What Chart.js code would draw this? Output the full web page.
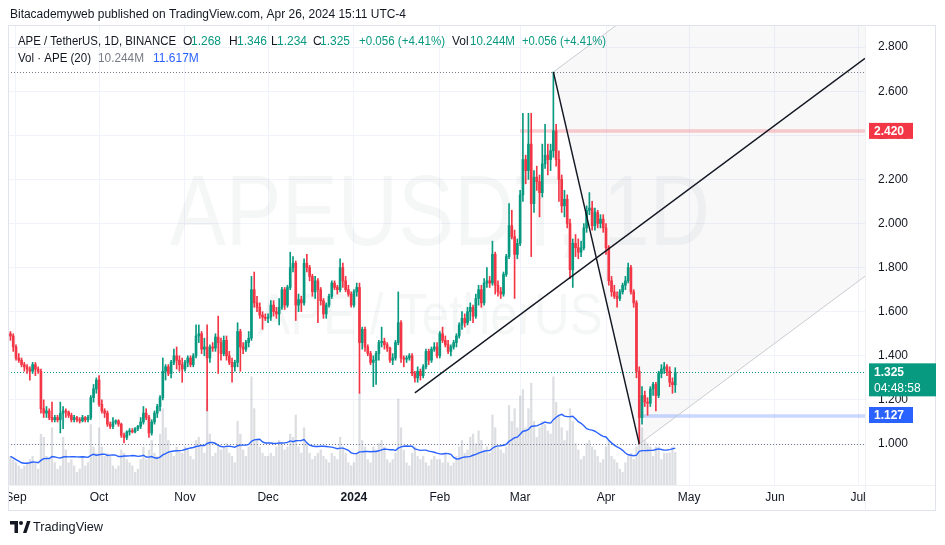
<!DOCTYPE html>
<html>
<head>
<meta charset="utf-8">
<script src="https://cdn.jsdelivr.net/npm/chart.js@4.4.1/dist/chart.umd.min.js"></script>
<style>
  html, body { margin: 0; padding: 0; background: #ffffff; }
  canvas { display: block; }
</style>
</head>
<body>
<canvas id="apeChart" width="945" height="545"></canvas>
<script>
// day index: 0 = 2023-09-01, first candle = 2023-08-30
const firstDay = -2;
const monthTicks = [0, 30, 61, 91, 122, 153, 182, 213, 243, 274, 304];
const monthLabels = ['Sep', 'Oct', 'Nov', 'Dec', '2024', 'Feb', 'Mar', 'Apr', 'May', 'Jun', 'Jul'];
const priceTicks = [1.0, 1.2, 1.4, 1.6, 1.8, 2.0, 2.2, 2.4, 2.6, 2.8];

const opens = [
  1.50, 1.49,
  1.44, 1.39, 1.38, 1.36, 1.35, 1.34, 1.33, 1.36, 1.34, 1.33, 1.16, 1.14, 1.15, 1.12, 1.11, 1.12, 1.11, 1.14, 1.15, 1.145, 1.13, 1.11, 1.12, 1.11, 1.105, 1.12, 1.11, 1.12, 1.21, 1.25,
  1.29, 1.18, 1.15, 1.14, 1.09, 1.08, 1.10, 1.105, 1.09, 1.04, 1.03, 1.055, 1.06, 1.055, 1.07, 1.08, 1.10, 1.14, 1.12, 1.05, 1.10, 1.14, 1.17, 1.21, 1.33, 1.35, 1.32, 1.37, 1.40, 1.38, 1.36,
  1.34, 1.37, 1.39, 1.36, 1.40, 1.49, 1.50, 1.43, 1.44, 1.39, 1.44, 1.435, 1.485, 1.46, 1.41, 1.47, 1.40, 1.37, 1.35, 1.37, 1.51, 1.44, 1.43, 1.46, 1.48, 1.70, 1.64, 1.62, 1.585, 1.575,
  1.57, 1.575, 1.63, 1.60, 1.59, 1.62, 1.70, 1.63, 1.71, 1.80, 1.82, 1.63, 1.655, 1.64, 1.82, 1.80, 1.76, 1.69, 1.74, 1.70, 1.65, 1.59, 1.63, 1.67, 1.73, 1.71, 1.70, 1.80, 1.74, 1.70, 1.68,
  1.63, 1.69, 1.71, 1.46, 1.52, 1.44, 1.41, 1.37, 1.38, 1.41, 1.46, 1.465, 1.45, 1.435, 1.38, 1.39, 1.46, 1.55, 1.39, 1.385, 1.39, 1.40, 1.32, 1.30, 1.33, 1.31, 1.35, 1.42, 1.38, 1.43, 1.44,
  1.40, 1.50, 1.47, 1.45, 1.42, 1.44, 1.46, 1.49, 1.54, 1.57, 1.55, 1.60, 1.62, 1.58, 1.66, 1.70, 1.64, 1.73, 1.74, 1.73, 1.86, 1.72, 1.69, 1.68, 1.77, 1.85, 1.99, 1.94, 1.86,
  1.91, 2.13, 2.29, 2.24, 2.36, 2.09, 2.21, 2.19, 2.14, 2.27, 2.31, 2.29, 2.33, 2.42, 2.29, 2.20, 2.08, 2.11, 2.00, 1.79, 1.91, 1.89, 1.87, 1.89, 1.98, 2.06, 2.07, 1.99, 2.05, 2.00, 2.02,
  1.98, 1.89, 1.74, 1.69, 1.67, 1.66, 1.69, 1.72, 1.74, 1.80, 1.69, 1.64, 1.33, 1.12, 1.22, 1.19, 1.185, 1.25, 1.27, 1.22, 1.32, 1.34, 1.35, 1.33, 1.28, 1.268
];
const highs = [
  1.51, 1.50,
  1.45, 1.41, 1.39, 1.37, 1.36, 1.35, 1.37, 1.37, 1.35, 1.34, 1.20, 1.17, 1.16, 1.19, 1.13, 1.13, 1.19, 1.17, 1.16, 1.15, 1.14, 1.13, 1.125, 1.12, 1.13, 1.125, 1.13, 1.22, 1.27, 1.30,
  1.31, 1.20, 1.16, 1.15, 1.10, 1.12, 1.11, 1.11, 1.095, 1.05, 1.06, 1.07, 1.07, 1.075, 1.085, 1.12, 1.17, 1.16, 1.13, 1.11, 1.15, 1.18, 1.22, 1.39, 1.36, 1.36, 1.38, 1.43, 1.44, 1.40, 1.39,
  1.38, 1.40, 1.40, 1.41, 1.54, 1.54, 1.51, 1.48, 1.54, 1.45, 1.46, 1.50, 1.58, 1.48, 1.49, 1.49, 1.42, 1.39, 1.38, 1.55, 1.52, 1.46, 1.47, 1.51, 1.76, 1.78, 1.67, 1.64, 1.60, 1.59,
  1.59, 1.65, 1.65, 1.62, 1.66, 1.71, 1.71, 1.72, 1.87, 1.85, 1.83, 1.68, 1.67, 1.84, 1.86, 1.81, 1.77, 1.76, 1.75, 1.71, 1.66, 1.64, 1.68, 1.74, 1.74, 1.72, 1.84, 1.82, 1.76, 1.72, 1.69,
  1.70, 1.73, 1.73, 1.53, 1.53, 1.45, 1.42, 1.40, 1.42, 1.47, 1.53, 1.48, 1.46, 1.44, 1.41, 1.47, 1.69, 1.56, 1.40, 1.40, 1.41, 1.41, 1.33, 1.35, 1.34, 1.36, 1.43, 1.43, 1.44, 1.46, 1.46,
  1.51, 1.53, 1.49, 1.47, 1.45, 1.47, 1.50, 1.55, 1.60, 1.59, 1.62, 1.64, 1.63, 1.68, 1.72, 1.72, 1.75, 1.80, 1.76, 1.92, 1.87, 1.74, 1.71, 1.78, 1.86, 2.09, 2.06, 1.97, 1.93,
  2.15, 2.50, 2.31, 2.50, 2.50, 2.24, 2.26, 2.22, 2.36, 2.45, 2.36, 2.36, 2.687, 2.45, 2.33, 2.22, 2.15, 2.13, 2.02, 1.93, 1.95, 1.93, 1.92, 2.00, 2.08, 2.14, 2.10, 2.07, 2.06, 2.04, 2.04,
  2.00, 1.90, 1.76, 1.72, 1.69, 1.70, 1.73, 1.76, 1.82, 1.81, 1.70, 1.65, 1.35, 1.26, 1.24, 1.21, 1.26, 1.28, 1.28, 1.33, 1.36, 1.37, 1.36, 1.35, 1.30, 1.346
];
const lows = [
  1.47, 1.42,
  1.38, 1.37, 1.35, 1.33, 1.32, 1.29, 1.32, 1.31, 1.32, 1.14, 1.12, 1.12, 1.11, 1.10, 1.10, 1.10, 1.05, 1.07, 1.12, 1.12, 1.10, 1.10, 1.10, 1.095, 1.10, 1.10, 1.10, 1.11, 1.19, 1.23,
  1.17, 1.14, 1.12, 1.08, 1.07, 1.07, 1.09, 1.08, 1.03, 1.005, 1.02, 1.04, 1.05, 1.05, 1.06, 1.07, 1.09, 1.11, 1.03, 1.04, 1.09, 1.12, 1.15, 1.20, 1.29, 1.31, 1.30, 1.36, 1.34, 1.33, 1.28,
  1.33, 1.35, 1.35, 1.35, 1.39, 1.46, 1.41, 1.40, 1.15, 1.37, 1.42, 1.42, 1.32, 1.38, 1.40, 1.38, 1.36, 1.28, 1.33, 1.35, 1.33, 1.41, 1.42, 1.44, 1.47, 1.62, 1.60, 1.57, 1.52, 1.56,
  1.55, 1.56, 1.58, 1.57, 1.54, 1.61, 1.61, 1.62, 1.70, 1.78, 1.56, 1.60, 1.60, 1.63, 1.78, 1.74, 1.67, 1.66, 1.55, 1.63, 1.57, 1.57, 1.62, 1.66, 1.70, 1.68, 1.69, 1.71, 1.69, 1.67, 1.62,
  1.62, 1.67, 1.23, 1.43, 1.42, 1.40, 1.36, 1.26, 1.27, 1.38, 1.44, 1.43, 1.42, 1.37, 1.36, 1.38, 1.45, 1.37, 1.35, 1.37, 1.38, 1.31, 1.28, 1.28, 1.29, 1.30, 1.34, 1.36, 1.37, 1.42, 1.39,
  1.39, 1.46, 1.44, 1.41, 1.40, 1.43, 1.44, 1.48, 1.52, 1.53, 1.54, 1.56, 1.55, 1.57, 1.63, 1.62, 1.63, 1.71, 1.71, 1.72, 1.68, 1.67, 1.66, 1.67, 1.76, 1.84, 1.93, 1.66, 1.84,
  1.90, 2.10, 2.18, 2.20, 1.85, 2.05, 2.15, 2.03, 2.12, 2.25, 2.22, 2.24, 2.30, 2.26, 2.10, 2.05, 2.03, 1.98, 1.75, 1.71, 1.85, 1.84, 1.85, 1.88, 1.96, 2.04, 1.97, 1.97, 1.98, 1.98, 1.96,
  1.86, 1.72, 1.67, 1.66, 1.62, 1.65, 1.68, 1.70, 1.73, 1.68, 1.62, 1.30, 1.00, 1.09, 1.17, 1.13, 1.17, 1.22, 1.15, 1.21, 1.30, 1.32, 1.31, 1.26, 1.23, 1.234
];
const closes = [
  1.49, 1.44,
  1.39, 1.38, 1.36, 1.35, 1.34, 1.33, 1.36, 1.34, 1.33, 1.16, 1.14, 1.15, 1.12, 1.11, 1.12, 1.11, 1.14, 1.15, 1.145, 1.13, 1.11, 1.12, 1.11, 1.105, 1.12, 1.11, 1.12, 1.21, 1.25, 1.29,
  1.18, 1.15, 1.14, 1.09, 1.08, 1.10, 1.105, 1.09, 1.04, 1.03, 1.055, 1.06, 1.055, 1.07, 1.08, 1.10, 1.14, 1.12, 1.05, 1.10, 1.14, 1.17, 1.21, 1.33, 1.35, 1.32, 1.37, 1.40, 1.38, 1.36, 1.34,
  1.37, 1.39, 1.36, 1.40, 1.49, 1.50, 1.43, 1.44, 1.39, 1.44, 1.435, 1.485, 1.46, 1.41, 1.47, 1.40, 1.37, 1.35, 1.37, 1.51, 1.44, 1.43, 1.46, 1.48, 1.70, 1.64, 1.62, 1.585, 1.575, 1.57,
  1.575, 1.63, 1.60, 1.59, 1.62, 1.70, 1.63, 1.71, 1.80, 1.82, 1.63, 1.655, 1.64, 1.82, 1.80, 1.76, 1.69, 1.74, 1.70, 1.65, 1.59, 1.63, 1.67, 1.73, 1.71, 1.70, 1.80, 1.74, 1.70, 1.68, 1.63,
  1.69, 1.71, 1.46, 1.52, 1.44, 1.41, 1.37, 1.38, 1.41, 1.46, 1.465, 1.45, 1.435, 1.38, 1.39, 1.46, 1.55, 1.39, 1.385, 1.39, 1.40, 1.32, 1.30, 1.33, 1.31, 1.35, 1.42, 1.38, 1.43, 1.44, 1.40,
  1.50, 1.47, 1.45, 1.42, 1.44, 1.46, 1.49, 1.54, 1.57, 1.55, 1.60, 1.62, 1.58, 1.66, 1.70, 1.64, 1.73, 1.74, 1.73, 1.86, 1.72, 1.69, 1.68, 1.77, 1.85, 1.99, 1.94, 1.86, 1.91,
  2.13, 2.29, 2.24, 2.36, 2.09, 2.21, 2.19, 2.14, 2.27, 2.31, 2.29, 2.33, 2.42, 2.29, 2.20, 2.08, 2.11, 2.00, 1.79, 1.91, 1.89, 1.87, 1.89, 1.98, 2.06, 2.07, 1.99, 2.05, 2.00, 2.02, 1.98,
  1.89, 1.74, 1.69, 1.67, 1.66, 1.69, 1.72, 1.74, 1.80, 1.69, 1.64, 1.33, 1.12, 1.22, 1.19, 1.185, 1.25, 1.27, 1.22, 1.32, 1.34, 1.35, 1.33, 1.28, 1.269, 1.325
];
// volume in millions of APE
const volumes = [
  9, 8,
  7, 6, 5, 6, 7, 8, 9, 7, 5, 16, 15, 9, 8, 18, 7, 5, 6, 15, 11, 7, 8, 6, 4, 5, 9, 6, 7, 19, 12, 10,
  18, 12, 9, 10, 9, 6, 5, 6, 11, 10, 8, 7, 6, 4, 5, 8, 12, 8, 11, 14, 10, 9, 16, 24, 18, 14, 10, 9, 12, 11, 10,
  12, 11, 9, 8, 14, 15, 12, 10, 27, 16, 9, 10, 12, 11, 12, 13, 10, 9, 7, 20, 16, 11, 9, 12, 34, 24, 14, 12, 10, 9,
  9, 10, 9, 12, 14, 13, 11, 12, 16, 15, 22, 12, 10, 18, 13, 10, 8, 9, 10, 11, 9, 8, 7, 10, 9, 8, 15, 12, 10, 7, 6,
  7, 10, 29, 14, 12, 8, 7, 12, 11, 13, 14, 12, 8, 7, 8, 10, 27, 18, 11, 7, 6, 10, 12, 9, 8, 9, 7, 6, 8, 9, 8,
  8, 7, 10, 7, 6, 7, 9, 12, 14, 10, 11, 15, 16, 13, 17, 14, 11, 12, 10, 22, 18, 12, 11, 10, 12, 25, 20, 24, 18,
  28, 30, 18, 24, 32, 20, 15, 18, 20, 19, 17, 16, 34, 26, 22, 18, 14, 17, 24, 20, 13, 11, 8, 9, 13, 14, 12, 11, 9, 7, 8,
  12, 14, 9, 8, 7, 5, 4, 7, 9, 10, 8, 12, 32, 18, 14, 13, 12, 9, 12, 12, 8, 10, 10, 10.1, 12, 10.244
];

// pitchfork anchors [day, price]: A, B, C
const forkPoints = [[144, 1.232], [194, 2.687], [225, 1.00]];
const resistanceLevel = 2.420, resistanceFrom = 182;
const supportLevel = 1.127, supportFrom = 225;
const countdown = '04:48:58';

const FONT = '"Liberation Sans", Arial, sans-serif';
Chart.defaults.font.family = FONT;

const upColor = '#089981';
const downColor = '#f23645';
const dayX = closes.map((_, i) => firstDay + i);
const candleColors = closes.map((c, i) => c >= opens[i] ? upColor : downColor);
const volMA = volumes.map((_, i) => {
  const w = volumes.slice(Math.max(0, i - 19), i + 1);
  return w.reduce((s, v) => s + v, 0) / w.length;
});
const last = closes.length - 1;

function text(ctx, s, x, y, color, size, bold, maxW, align) {
  ctx.font = (bold ? 'bold ' : '') + size + 'px ' + FONT;
  ctx.fillStyle = color;
  ctx.textAlign = align || 'left';
  ctx.textBaseline = 'middle';
  if (maxW) ctx.fillText(s, x, y, maxW); else ctx.fillText(s, x, y);
}

function forkGeometry(x) {
  const [A, B, C] = forkPoints;
  const M = [(B[0] + C[0]) / 2, (B[1] + C[1]) / 2];
  const k = (M[1] - A[1]) / (M[0] - A[0]);
  const at = (P, d) => P[1] + k * (d - P[0]);
  return { A, B, C, at, end: x.max };
}

const overlay = {
  id: 'overlay',
  beforeDatasetsDraw(chart) {
    const { ctx, chartArea: a, scales: { x, y } } = chart;
    const px = d => x.getPixelForValue(d), py = p => y.getPixelForValue(p);
    ctx.save();
    ctx.beginPath();
    ctx.rect(a.left, a.top, a.right - a.left, a.bottom - a.top);
    ctx.clip();

    // watermark
    ctx.fillStyle = 'rgba(120,123,134,0.07)';
    ctx.textAlign = 'center';
    ctx.textBaseline = 'alphabetic';
    ctx.font = '100px ' + FONT;
    ctx.fillText('APEUSDT, 1D', 440, 245, 540);
    ctx.font = '58px ' + FONT;
    ctx.fillText('APE / TetherUS', 430, 334, 345);

    // pitchfork shading
    const f = forkGeometry(x);
    ctx.beginPath();
    ctx.moveTo(px(f.B[0]), py(f.B[1]));
    ctx.lineTo(px(f.end), py(f.at(f.B, f.end)));
    ctx.lineTo(px(f.end), py(f.at(f.C, f.end)));
    ctx.lineTo(px(f.C[0]), py(f.C[1]));
    ctx.closePath();
    ctx.fillStyle = 'rgba(120,123,134,0.05)';
    ctx.fill();

    // horizontal zones
    ctx.lineWidth = 3.5;
    ctx.strokeStyle = 'rgba(242,54,69,0.25)';
    ctx.beginPath();
    ctx.moveTo(px(resistanceFrom), py(resistanceLevel));
    ctx.lineTo(a.right, py(resistanceLevel));
    ctx.stroke();
    ctx.strokeStyle = 'rgba(41,98,255,0.25)';
    ctx.beginPath();
    ctx.moveTo(px(supportFrom), py(supportLevel));
    ctx.lineTo(a.right, py(supportLevel));
    ctx.stroke();

    // dotted price lines
    ctx.lineWidth = 1;
    ctx.setLineDash([1, 2]);
    const hi = Math.max(...highs), lo = Math.min(...lows);
    ctx.strokeStyle = '#787b86';
    [hi, lo].forEach(p => {
      const yy = Math.round(py(p)) + 0.5;
      ctx.beginPath(); ctx.moveTo(a.left, yy); ctx.lineTo(a.right, yy); ctx.stroke();
    });
    ctx.strokeStyle = upColor;
    const yc = Math.round(py(closes[last])) + 0.5;
    ctx.beginPath(); ctx.moveTo(a.left, yc); ctx.lineTo(a.right, yc); ctx.stroke();
    ctx.restore();
  },
  afterDatasetsDraw(chart) {
    const { ctx, chartArea: a, scales: { x, y } } = chart;
    const px = d => x.getPixelForValue(d), py = p => y.getPixelForValue(p);
    const f = forkGeometry(x);
    ctx.save();
    ctx.beginPath();
    ctx.rect(a.left, a.top, a.right - a.left, a.bottom - a.top);
    ctx.clip();
    ctx.lineWidth = 1;
    ctx.strokeStyle = '#c9cbd1';
    [f.B, f.C].forEach(P => {
      ctx.beginPath(); ctx.moveTo(px(P[0]), py(P[1])); ctx.lineTo(px(f.end), py(f.at(P, f.end))); ctx.stroke();
    });
    ctx.lineWidth = 1.4;
    ctx.strokeStyle = '#131722';
    ctx.beginPath(); ctx.moveTo(px(f.A[0]), py(f.A[1])); ctx.lineTo(px(f.end), py(f.at(f.A, f.end))); ctx.stroke();
    ctx.beginPath(); ctx.moveTo(px(f.B[0]), py(f.B[1])); ctx.lineTo(px(f.C[0]), py(f.C[1])); ctx.stroke();
    ctx.restore();
  },
  afterDraw(chart) {
    const { ctx, chartArea: a, scales: { y } } = chart;
    const py = p => y.getPixelForValue(p);
    ctx.save();
    // clip first month label like the reference frame
    ctx.fillStyle = '#ffffff';
    ctx.fillRect(0, a.bottom + 1, a.left + 1, 26);

    // frame
    ctx.strokeStyle = '#e0e3eb';
    ctx.lineWidth = 1;
    ctx.strokeRect(8.5, 25.5, 927, 485);
    ctx.strokeStyle = '#eef0f4';
    ctx.beginPath();
    ctx.moveTo(a.left, a.bottom + 0.5); ctx.lineTo(935, a.bottom + 0.5);
    ctx.moveTo(a.right + 0.5, 25); ctx.lineTo(a.right + 0.5, 511);
    ctx.stroke();

    // price tags
    const yr = py(resistanceLevel);
    ctx.fillStyle = downColor; ctx.fillRect(869, yr - 8, 44, 16);
    text(ctx, resistanceLevel.toFixed(3), 874, yr + 0.5, '#ffffff', 12, true);
    const yl = py(closes[last]);
    ctx.fillStyle = upColor; ctx.fillRect(869, yl - 9, 67, 33);
    text(ctx, closes[last].toFixed(3), 874, yl + 0.5, '#ffffff', 12, true);
    text(ctx, countdown, 874, yl + 16, '#ffffff', 12, false);
    const ys = py(supportLevel);
    ctx.fillStyle = '#2962ff'; ctx.fillRect(869, ys - 9, 44, 16);
    text(ctx, supportLevel.toFixed(3), 874, ys - 0.5, '#ffffff', 12, true);

    // header and legend
    const dark = '#131722';
    text(ctx, 'Bitacademyweb published on TradingView.com, Apr 26, 2024 15:11 UTC-4', 10, 15, dark, 12, false, 396);
    const chg = closes[last] - closes[last - 1];
    const chgText = '+' + chg.toFixed(3) + ' (+' + (chg / closes[last - 1] * 100).toFixed(2) + '%)';
    const volText = volumes[last].toFixed(3) + 'M';
    text(ctx, 'APE / TetherUS, 1D, BINANCE', 18, 42, dark, 12, false, 158);
    text(ctx, 'O', 183, 42, dark, 12); text(ctx, opens[last].toFixed(3), 191, 42, upColor, 12);
    text(ctx, 'H', 229, 42, dark, 12); text(ctx, highs[last].toFixed(3), 237, 42, upColor, 12);
    text(ctx, 'L', 271, 42, dark, 12); text(ctx, lows[last].toFixed(3), 277, 42, upColor, 12);
    text(ctx, 'C', 313, 42, dark, 12); text(ctx, closes[last].toFixed(3), 320, 42, upColor, 12);
    text(ctx, chgText, 359, 42, upColor, 12, false, 86);
    text(ctx, 'Vol', 452, 42, dark, 12); text(ctx, volText, 470, 42, upColor, 12, false, 45);
    text(ctx, chgText, 522, 42, upColor, 12, false, 84);
    text(ctx, 'Vol \u00b7 APE (20)', 18, 59, dark, 12, false, 73);
    text(ctx, volText, 98, 59, '#787b86', 12, false, 46);
    text(ctx, volMA[last].toFixed(3) + 'M', 153, 59, '#2962ff', 12, false, 46);

    // TradingView logo
    ctx.fillStyle = dark;
    ctx.fillRect(10, 521, 8, 3.5);
    ctx.fillRect(14.5, 521, 3.5, 12);
    ctx.beginPath(); ctx.arc(21, 523, 2, 0, Math.PI * 2); ctx.fill();
    ctx.beginPath();
    ctx.moveTo(23, 533); ctx.lineTo(27, 521); ctx.lineTo(30.5, 521); ctx.lineTo(26.5, 533);
    ctx.closePath(); ctx.fill();
    text(ctx, 'TradingView', 33, 527.5, dark, 13, false, 70);
    ctx.restore();
  }
};

new Chart(document.getElementById('apeChart'), {
  type: 'bar',
  data: {
    datasets: [
      {
        label: 'Volume',
        data: dayX.map((d, i) => ({ x: d, y: volumes[i] })),
        yAxisID: 'yv',
        backgroundColor: 'rgba(160,163,175,0.36)',
        barThickness: 1.6,
        grouped: false,
        order: 4
      },
      {
        type: 'line',
        label: 'Volume MA 20',
        data: dayX.map((d, i) => ({ x: d, y: volMA[i] })),
        yAxisID: 'yv',
        borderColor: '#2962ff',
        borderWidth: 1.4,
        pointRadius: 0,
        tension: 0,
        order: 3
      },
      {
        label: 'Wicks',
        data: dayX.map((d, i) => ({ x: d, y: [lows[i], highs[i]] })),
        yAxisID: 'y',
        backgroundColor: candleColors,
        barThickness: 1,
        grouped: false,
        order: 2
      },
      {
        label: 'Bodies',
        data: dayX.map((d, i) => ({ x: d, y: [Math.min(opens[i], closes[i]), Math.max(opens[i], closes[i])] })),
        yAxisID: 'y',
        backgroundColor: candleColors,
        barThickness: 2,
        minBarLength: 1,
        grouped: false,
        order: 1
      }
    ]
  },
  options: {
    responsive: false,
    animation: false,
    devicePixelRatio: 1,
    events: [],
    layout: { padding: { left: 8, top: 26, right: 10, bottom: 34 } },
    plugins: {
      legend: { display: false },
      tooltip: { enabled: false }
    },
    scales: {
      x: {
        type: 'linear',
        min: -2.888,
        max: 306.5,
        offset: false,
        grid: { color: '#f0f3fa', offset: false, drawTicks: false },
        border: { display: false },
        afterBuildTicks: scale => { scale.ticks = monthTicks.map(v => ({ value: v })); },
        afterFit: scale => { scale.height = 26; scale.paddingLeft = 0; scale.paddingRight = 0; },
        ticks: {
          autoSkip: false,
          maxRotation: 0,
          padding: 5,
          color: '#131722',
          font: ctx => ({ size: 12, family: FONT, weight: ctx.tick && ctx.tick.value === 122 ? 'bold' : 'normal' }),
          callback: v => {
            const i = monthTicks.indexOf(v);
            return i >= 0 ? monthLabels[i] : '';
          }
        }
      },
      y: {
        type: 'linear',
        position: 'right',
        min: 0.81406,
        max: 2.8957,
        grid: { color: '#f0f3fa', drawTicks: false },
        border: { display: false },
        afterBuildTicks: scale => { scale.ticks = priceTicks.map(v => ({ value: v })); },
        afterFit: scale => { scale.width = 70; scale.paddingTop = 0; scale.paddingBottom = 0; },
        ticks: {
          padding: 13,
          color: '#131722',
          font: { size: 12 },
          callback: v => Number(v).toFixed(3)
        }
      },
      yv: {
        type: 'linear',
        display: false,
        min: 0,
        max: 144.3
      }
    }
  },
  plugins: [overlay]
});
</script>
</body>
</html>
